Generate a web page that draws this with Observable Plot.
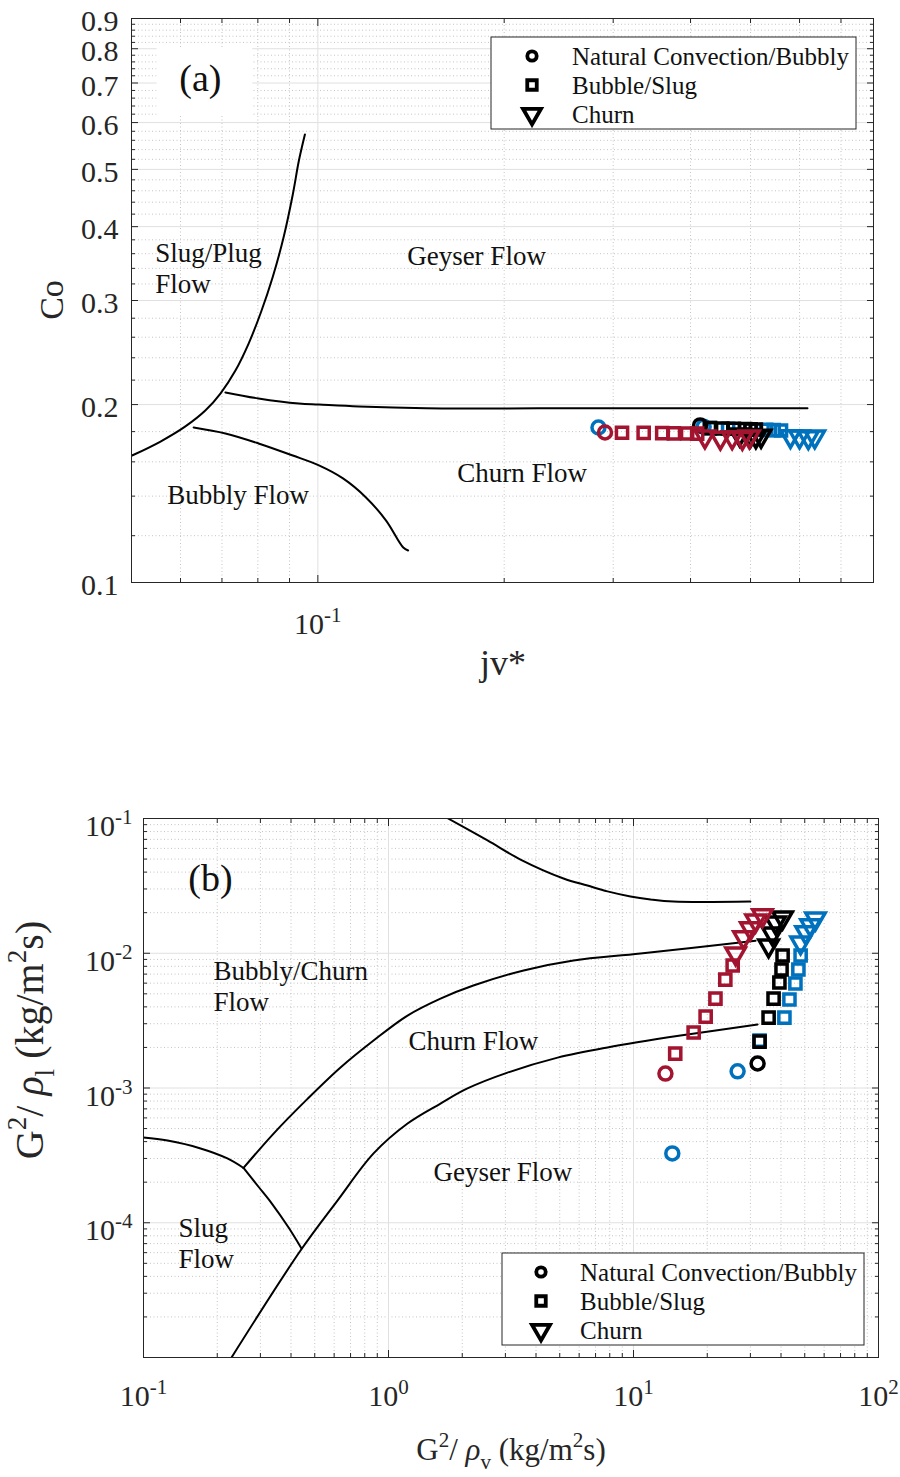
<!DOCTYPE html>
<html><head><meta charset="utf-8">
<script src="https://cdn.jsdelivr.net/npm/d3@7"></script>
<script src="https://cdn.jsdelivr.net/npm/@observablehq/plot@0.6"></script>
<style>
body{margin:0;background:#fff;}
#wrap{width:900px;}
#wrap svg{display:block;}
</style></head><body><div id="wrap"></div>
<script>
// ---------------- DATA ----------------
const REGIMES = ["Natural Convection/Bubbly", "Bubble/Slug", "Churn"];
const SERIES = ["Series 3", "Series 2", "Series 1"];          // draw order: blue, black, red
const COLORS = ["#0072BD", "#000000", "#A2142F"];

// Panel (a): jv* (x) and Co (y)
const a_s1_bubbly_jv = [0.291];
const a_s1_bubbly_co = [0.1794];
const a_s1_slug_jv   = [0.310, 0.336, 0.360, 0.376, 0.395, 0.410];
const a_s1_slug_co   = [0.1792, 0.1791, 0.1789, 0.1788, 0.1787, 0.1786];
const a_s1_churn_jv  = [0.422, 0.447, 0.467, 0.485, 0.498];
const a_s1_churn_co  = [0.1765, 0.1757, 0.1760, 0.1756, 0.1765];

const a_s2_bubbly_jv = [0.4145];
const a_s2_bubbly_co = [0.1844];
const a_s2_slug_jv   = [0.430, 0.450, 0.470, 0.490, 0.500, 0.510];
const a_s2_slug_co   = [0.1825, 0.1822, 0.1820, 0.1818, 0.1816, 0.1815];
const a_s2_churn_jv  = [0.480, 0.500, 0.510, 0.520];
const a_s2_churn_co  = [0.1780, 0.1775, 0.1766, 0.1770];

const a_s3_bubbly_jv = [0.284, 0.420];
const a_s3_bubbly_co = [0.1829, 0.1835];
const a_s3_slug_jv   = [0.430, 0.460, 0.500, 0.530, 0.545, 0.560];
const a_s3_slug_co   = [0.1825, 0.1820, 0.1815, 0.1812, 0.1810, 0.1808];
const a_s3_churn_jv  = [0.580, 0.600, 0.620, 0.635];
const a_s3_churn_co  = [0.1768, 0.1765, 0.1760, 0.1765];

// Panel (a) boundary curves
const a_slugplug_jv = [0.0501,0.0557,0.0611,0.0658,0.0696,0.0736,0.0773,0.0809,0.0846,0.0881,0.0911,0.0932,0.0953];
const a_slugplug_co = [0.164,0.1732,0.1837,0.1954,0.2088,0.2284,0.2537,0.2863,0.3294,0.3850,0.4535,0.5176,0.5728];
const a_geyser_jv   = [0.0709,0.0802,0.0932,0.1004,0.1165,0.1496,0.2875,0.618];
const a_geyser_co   = [0.2097,0.2048,0.2008,0.2000,0.1985,0.1972,0.1972,0.1972];
const a_bubbly_jv   = [0.0630,0.0709,0.0802,0.0911,0.1004,0.1098,0.1196,0.1289,0.1374,0.1399];
const a_bubbly_co   = [0.1829,0.1787,0.1719,0.1640,0.1578,0.1500,0.1393,0.1273,0.1146,0.1133];

// Panel (b): G^2/rho_v (x) and G^2/rho_l (y)
const b_s1_bubbly_x = [13.5];
const b_s1_bubbly_y = [1.28e-3];
const b_s1_slug_x   = [14.8, 17.6, 19.7, 21.6, 23.7, 25.4];
const b_s1_slug_y   = [1.80e-3, 2.58e-3, 3.39e-3, 4.61e-3, 6.38e-3, 8.11e-3];
const b_s1_churn_x  = [26.1, 28.1, 30.0, 31.5, 33.6];
const b_s1_churn_y  = [9.96e-3, 1.31e-2, 1.53e-2, 1.75e-2, 1.91e-2];

const b_s2_bubbly_x = [32.1];
const b_s2_bubbly_y = [1.52e-3];
const b_s2_slug_x   = [32.7, 35.6, 37.3, 39.4, 40.2, 40.6];
const b_s2_slug_y   = [2.21e-3, 3.33e-3, 4.61e-3, 6.07e-3, 7.57e-3, 9.62e-3];
const b_s2_churn_x  = [35.6, 36.9, 38.0, 40.6];
const b_s2_churn_y  = [1.14e-2, 1.40e-2, 1.69e-2, 1.84e-2];

const b_s3_bubbly_x = [14.4, 26.6];
const b_s3_bubbly_y = [3.27e-4, 1.33e-3];
const b_s3_slug_x   = [32.7, 41.3, 43.3, 45.8, 47.1, 48.1];
const b_s3_slug_y   = [2.25e-3, 3.33e-3, 4.54e-3, 5.96e-3, 7.57e-3, 9.62e-3];
const b_s3_churn_x  = [48.1, 50.4, 52.8, 55.3];
const b_s3_churn_y  = [1.20e-2, 1.43e-2, 1.61e-2, 1.81e-2];

// Panel (b) boundary curves
const b_top_x     = [1.75,2.536,3.458,5.18,6.49,7.83,9.72,11.73,14.56,30.0];
const b_top_y     = [0.1,0.0687,0.0496,0.0359,0.0318,0.0288,0.0264,0.0251,0.0242,0.0242];
const b_bchurn_x  = [0.256,0.3396,0.467,0.637,0.869,1.196,1.63,2.22,3.56,5.69,10.68,31.5];
const b_bchurn_y  = [2.55e-4,4.59e-4,8.3e-4,1.42e-3,2.25e-3,3.45e-3,4.61e-3,5.76e-3,7.45e-3,8.83e-3,9.96e-3,1.24e-2];
const b_geyser_x  = [0.2287,0.4375,0.619,0.869,1.196,1.63,2.10,3.06,4.90,7.83,15.55,32.1];
const b_geyser_y  = [1e-5,6.22e-5,1.46e-4,3.27e-4,5.45e-4,7.67e-4,9.92e-4,1.30e-3,1.68e-3,2.0e-3,2.45e-3,2.96e-3];
const b_slugA_x   = [0.1,0.1253,0.171,0.220,0.256];
const b_slugA_y   = [4.29e-4,4.07e-4,3.56e-4,3.0e-4,2.55e-4];
const b_slugB_x   = [0.256,0.2947,0.333,0.391,0.4415];
const b_slugB_y   = [2.55e-4,1.85e-4,1.40e-4,9.22e-5,6.44e-5];

// Tick values
const a_yTicks = [0.1,0.2,0.3,0.4,0.5,0.6,0.7,0.8,0.9];
const a_xMajor = [0.1];
const a_xMinor = [0.06,0.07,0.08,0.09,0.2,0.3,0.4,0.5,0.6,0.7];
const b_major  = [0.1, 1, 10, 100];
const b_yMajor = [1e-1, 1e-2, 1e-3, 1e-4, 1e-5];
const b_yLabeled = [1e-1, 1e-2, 1e-3, 1e-4];

// Region labels
const a_labels = [
  {x: 0.0546, y: 0.3406, text: "Slug/Plug\nFlow"},
  {x: 0.1394, y: 0.3575, text: "Geyser Flow"},
  {x: 0.168,  y: 0.1535, text: "Churn Flow"},
  {x: 0.0571, y: 0.1414, text: "Bubbly Flow"}
];
const b_labels = [
  {x: 0.193, y: 5.76e-3, text: "Bubbly/Churn\nFlow"},
  {x: 1.207, y: 2.25e-3, text: "Churn Flow"},
  {x: 1.526, y: 2.40e-4, text: "Geyser Flow"},
  {x: 0.139, y: 7.14e-5, text: "Slug\nFlow"}
];

// ---------------- HELPERS ----------------
const FONT = "Liberation Serif";
const INK = "#262626";
const SYM = ["circle", "square", "triangle"];
const RAD = [6.5, 6.3, 7.2];

function zip(series, regime, xs, ys) { return xs.map((x, i) => ({series, regime, x, y: ys[i]})); }
function curve(name, xs, ys) { return xs.map((x, i) => ({curve: name, x, y: ys[i]})); }

const aPoints = [
  ...zip(SERIES[0], REGIMES[0], a_s3_bubbly_jv, a_s3_bubbly_co),
  ...zip(SERIES[0], REGIMES[1], a_s3_slug_jv, a_s3_slug_co),
  ...zip(SERIES[0], REGIMES[2], a_s3_churn_jv, a_s3_churn_co),
  ...zip(SERIES[1], REGIMES[0], a_s2_bubbly_jv, a_s2_bubbly_co),
  ...zip(SERIES[1], REGIMES[1], a_s2_slug_jv, a_s2_slug_co),
  ...zip(SERIES[1], REGIMES[2], a_s2_churn_jv, a_s2_churn_co),
  ...zip(SERIES[2], REGIMES[0], a_s1_bubbly_jv, a_s1_bubbly_co),
  ...zip(SERIES[2], REGIMES[1], a_s1_slug_jv, a_s1_slug_co),
  ...zip(SERIES[2], REGIMES[2], a_s1_churn_jv, a_s1_churn_co)
];
const bPoints = [
  ...zip(SERIES[0], REGIMES[0], b_s3_bubbly_x, b_s3_bubbly_y),
  ...zip(SERIES[0], REGIMES[1], b_s3_slug_x, b_s3_slug_y),
  ...zip(SERIES[0], REGIMES[2], b_s3_churn_x, b_s3_churn_y),
  ...zip(SERIES[1], REGIMES[0], b_s2_bubbly_x, b_s2_bubbly_y),
  ...zip(SERIES[1], REGIMES[1], b_s2_slug_x, b_s2_slug_y),
  ...zip(SERIES[1], REGIMES[2], b_s2_churn_x, b_s2_churn_y),
  ...zip(SERIES[2], REGIMES[0], b_s1_bubbly_x, b_s1_bubbly_y),
  ...zip(SERIES[2], REGIMES[1], b_s1_slug_x, b_s1_slug_y),
  ...zip(SERIES[2], REGIMES[2], b_s1_churn_x, b_s1_churn_y)
];
const aCurves = [
  ...curve("slugplug", a_slugplug_jv, a_slugplug_co),
  ...curve("geyser", a_geyser_jv, a_geyser_co),
  ...curve("bubbly", a_bubbly_jv, a_bubbly_co)
];
const bCurves = [
  ...curve("top", b_top_x, b_top_y),
  ...curve("bchurn", b_bchurn_x, b_bchurn_y),
  ...curve("geyser", b_geyser_x, b_geyser_y),
  ...curve("slugA", b_slugA_x, b_slugA_y),
  ...curve("slugB", b_slugB_x, b_slugB_y)
];

function dotMarks(rows) {
  const marks = [];
  for (const s of SERIES) REGIMES.forEach((reg, k) => {
    const d = rows.filter(r => r.series === s && r.regime === reg);
    if (d.length) marks.push(Plot.dot(d, {
      x: "x", y: "y", stroke: "series", symbol: SYM[k], r: RAD[k],
      rotate: k === 2 ? 180 : 0, strokeWidth: 3.5, fill: "none", strokeLinejoin: "miter"
    }));
  });
  return marks;
}

function minorLog(decades) {
  const out = [];
  for (const d of decades) for (let k = 2; k <= 9; k++) out.push(+(k * d).toPrecision(3));
  return out;
}

function frameTicks(xMajor, xMinor, yMajor, yMinor) {
  const m = [];
  for (const anchor of ["bottom", "top"]) {
    m.push(Plot.axisX({anchor, ticks: xMajor, tickSize: -7, tickFormat: () => "", label: null, stroke: INK}));
    m.push(Plot.axisX({anchor, ticks: xMinor, tickSize: -4, tickFormat: () => "", label: null, stroke: INK}));
  }
  for (const anchor of ["left", "right"]) {
    m.push(Plot.axisY({anchor, ticks: yMajor, tickSize: -7, tickFormat: () => "", label: null, stroke: INK}));
    m.push(Plot.axisY({anchor, ticks: yMinor, tickSize: -4, tickFormat: () => "", label: null, stroke: INK}));
  }
  return m;
}

const pow10 = d => "10^" + Math.round(Math.log10(d));

function superscriptTicks(svg) {
  d3.select(svg).selectAll('g[aria-label$="tick label"] text').each(function () {
    const t = this.textContent;
    const i = t.indexOf("^");
    if (i < 0) return;
    const sel = d3.select(this);
    sel.text(t.slice(0, i));
    sel.append("tspan").attr("dy", -12).attr("font-size", 21).text(t.slice(i + 1));
  });
}

function addTitle(svg, {x, y, rotate = 0, size, parts}) {
  const t = d3.select(svg).append("text")
    .attr("transform", `translate(${x},${y}) rotate(${rotate})`)
    .attr("text-anchor", "middle").attr("font-family", FONT)
    .attr("font-size", size).attr("fill", INK);
  let shift = 0;
  for (const [s, kind, italic] of parts) {
    const target = kind === "sup" ? -0.42 * size : kind === "sub" ? 0.28 * size : 0;
    const ts = t.append("tspan").attr("dy", target - shift).text(s);
    if (kind) ts.attr("font-size", size * 0.68);
    if (italic) ts.attr("font-style", "italic");
    shift = target;
  }
}

function addLegend(svg, {x, y, w, h, symX, textX, rows}) {
  const g = d3.select(svg).append("g").attr("text-anchor", "start");
  g.append("rect").attr("x", x).attr("y", y).attr("width", w).attr("height", h)
    .attr("fill", "white").attr("stroke", INK).attr("stroke-width", 1);
  const shapes = [d3.symbolCircle, d3.symbolSquare, d3.symbolTriangle];
  const sizes = [Math.PI * 22, 90, 140];
  REGIMES.forEach((name, k) => {
    g.append("path")
      .attr("d", d3.symbol(shapes[k], sizes[k])())
      .attr("transform", `translate(${symX},${rows[k]}) rotate(${k === 2 ? 180 : 0})`)
      .attr("fill", "none").attr("stroke", "black").attr("stroke-width", 3.8).attr("stroke-linejoin", "miter");
    g.append("text").attr("x", textX).attr("y", rows[k]).attr("dy", "0.34em")
      .attr("text-anchor", "start")
      .attr("font-family", FONT).attr("font-size", 25).attr("fill", "#111").text(name);
  });
}

const style = {fontFamily: FONT, fontSize: "29px", color: INK, background: "white", overflow: "visible"};
const colorScale = {domain: SERIES, range: COLORS};
const TICKFONT = 30;

// ---------------- PANEL (a) ----------------
const a_yMinor = d3.range(6, 45).map(i => +(i * 0.02).toFixed(2)).filter(v => Math.abs(v * 10 - Math.round(v * 10)) > 1e-6);
const grid = {minor: {stroke: "#c4c4c4", strokeOpacity: 1, strokeDasharray: "1,2.5"}, major: {stroke: "#e0e0e0", strokeOpacity: 1}};

const plotA = Plot.plot({
  width: 900, height: 700,
  marginLeft: 131, marginRight: 27, marginTop: 18, marginBottom: 118,
  x: {type: "log", domain: [0.05, 0.79]},
  y: {type: "log", domain: [0.1, 0.9]},
  color: colorScale,
  style,
  marks: [
    Plot.gridX({ticks: a_xMinor, ...grid.minor}),
    Plot.gridY({ticks: a_yMinor, ...grid.minor}),
    Plot.gridX({ticks: a_xMajor, ...grid.major}),
    Plot.gridY({ticks: a_yTicks, ...grid.major}),
    Plot.rect([0], {x1: 0.0550, x2: 0.0785, y1: 0.6166, y2: 0.804, fill: "white"}),
    Plot.line(aCurves, {x: "x", y: "y", z: "curve", stroke: "black", strokeWidth: 2, curve: "catmull-rom"}),
    ...dotMarks(aPoints),
    Plot.text(a_labels, {x: "x", y: "y", text: "text", textAnchor: "start", fontSize: 27, lineHeight: 1.15, fill: "#111"}),
    Plot.text(["(a)"], {x: 0.0646, y: 0.7125, text: d => d, fontSize: 38, fill: "#111"}),
    Plot.frame({stroke: INK, strokeWidth: 1}),
    ...frameTicks(a_xMajor, a_xMinor, a_yTicks, a_yMinor),
    Plot.axisX({ticks: a_xMajor, tickSize: 0, tickPadding: 30, tickFormat: pow10, label: null, fill: INK, fontSize: TICKFONT}),
    Plot.axisY({ticks: a_yTicks, tickSize: 0, tickPadding: 13, tickFormat: d3.format(".1f"), label: null, dy: 3, fill: INK, fontSize: TICKFONT})
  ]
});
superscriptTicks(plotA);
addTitle(plotA, {x: 63, y: 300, rotate: -90, size: 34, parts: [["Co"]]});
addTitle(plotA, {x: 503, y: 675, size: 36, parts: [["jv*"]]});
addLegend(plotA, {x: 491, y: 37, w: 365, h: 92, symX: 532, textX: 572, rows: [56, 85, 114]});
document.getElementById("wrap").append(plotA);

// ---------------- PANEL (b) ----------------
const b_xMinor = minorLog([0.1, 1, 10]);
const b_yMinor = minorLog([1e-5, 1e-4, 1e-3, 1e-2]);

const plotB = Plot.plot({
  width: 900, height: 777,
  marginLeft: 143, marginRight: 22, marginTop: 118, marginBottom: 120,
  x: {type: "log", domain: [0.1, 100]},
  y: {type: "log", domain: [1e-5, 0.1]},
  color: colorScale,
  style,
  marks: [
    Plot.gridX({ticks: b_xMinor, ...grid.minor}),
    Plot.gridY({ticks: b_yMinor, ...grid.minor}),
    Plot.gridX({ticks: [1, 10], ...grid.major}),
    Plot.gridY({ticks: [1e-2, 1e-3, 1e-4], ...grid.major}),
    Plot.line(bCurves, {x: "x", y: "y", z: "curve", stroke: "black", strokeWidth: 2, clip: true, curve: "catmull-rom"}),
    ...dotMarks(bPoints),
    Plot.text(b_labels, {x: "x", y: "y", text: "text", textAnchor: "start", fontSize: 27, lineHeight: 1.15, fill: "#111"}),
    Plot.text(["(b)"], {x: 0.1877, y: 0.0359, text: d => d, fontSize: 38, fill: "#111"}),
    Plot.frame({stroke: INK, strokeWidth: 1}),
    ...frameTicks(b_major, b_xMinor, b_yMajor, b_yMinor),
    Plot.axisX({ticks: b_major, tickSize: 0, tickPadding: 27, tickFormat: pow10, label: null, fill: INK, fontSize: TICKFONT}),
    Plot.axisY({ticks: b_yLabeled, tickSize: 0, tickPadding: 11, tickFormat: pow10, label: null, dy: 8, fill: INK, fontSize: TICKFONT})
  ]
});
superscriptTicks(plotB);
addTitle(plotB, {x: 43, y: 340, rotate: -90, size: 40,
  parts: [["G"], ["2", "sup"], ["/ "], ["ρ", null, true], ["l", "sub"], [" (kg/m"], ["2", "sup"], ["s)"]]});
addTitle(plotB, {x: 511, y: 760, size: 31,
  parts: [["G"], ["2", "sup"], ["/ "], ["ρ", null, true], ["v", "sub"], [" (kg/m"], ["2", "sup"], ["s)"]]});
addLegend(plotB, {x: 502, y: 553, w: 362, h: 92, symX: 541, textX: 580, rows: [572, 601, 630]});
document.getElementById("wrap").append(plotB);
</script>
</body></html>
